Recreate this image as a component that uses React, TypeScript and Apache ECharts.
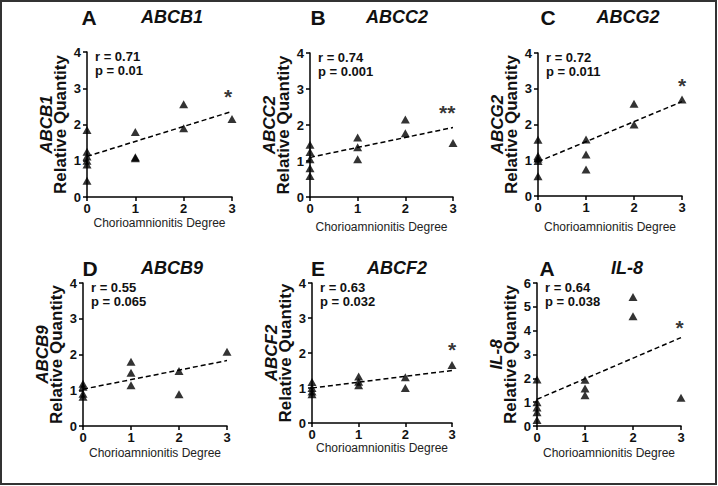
import React, { useEffect, useRef } from "react";
import * as echarts from "echarts";

const FONT = '"Liberation Sans", Arial, Helvetica, sans-serif';

// ---- data ----
const degreeTicks = [0, 1, 2, 3];
const panelLetters = ["A", "B", "C", "D", "E", "A"];
const geneNames = ["ABCB1", "ABCC2", "ABCG2", "ABCB9", "ABCF2", "IL-8"];
const rValues = ["0.71", "0.74", "0.72", "0.55", "0.63", "0.64"];
const pValues = ["0.01", "0.001", "0.011", "0.065", "0.032", "0.038"];
const yMaxValues = [4, 4, 4, 4, 4, 6];

const abcb1Points = [[0, 1.85], [0, 1.25], [0, 1.12], [0, 1.0], [0, 0.9], [0, 0.45], [1, 1.79], [1, 1.1], [1, 1.07], [2, 2.56], [2, 1.9], [3, 2.15]];
const abcc2Points = [[0, 1.45], [0, 1.25], [0, 1.05], [0, 0.8], [0, 0.58], [1, 1.65], [1, 1.38], [1, 1.05], [2, 2.15], [2, 1.77], [3, 1.5]];
const abcg2Points = [[0, 1.57], [0, 1.12], [0, 1.05], [0, 0.98], [0, 0.55], [1, 1.58], [1, 1.16], [1, 0.74], [2, 2.58], [2, 2.0], [3, 2.7]];
const abcb9Points = [[0, 1.18], [0, 1.1], [0, 0.9], [0, 0.82], [1, 1.8], [1, 1.49], [1, 1.14], [2, 1.54], [2, 0.89], [3, 2.08]];
const abcf2Points = [[0, 1.17], [0, 1.0], [0, 0.9], [0, 0.82], [1, 1.33], [1, 1.18], [1, 1.08], [2, 1.31], [2, 1.0], [3, 1.66]];
const il8Points = [[0, 1.95], [0, 1.0], [0, 0.78], [0, 0.58], [0, 0.25], [1, 1.94], [1, 1.57], [1, 1.29], [2, 5.41], [2, 4.6], [3, 1.19]];
const panelPoints = [abcb1Points, abcc2Points, abcg2Points, abcb9Points, abcf2Points, il8Points];

// regression fit values at degree 0 and degree 3
const fitAtZero = [1.12, 1.1, 0.96, 1.03, 1.0, 1.12];
const fitAtThree = [2.36, 1.93, 2.64, 1.83, 1.5, 3.71];

// significance marks and their data positions
const starMarks = ["*", "**", "*", "", "*", "*"];
const starPositions = [[2.92, 2.9], [2.88, 2.5], [3.0, 3.22], null, [3.0, 2.23], [2.97, 4.36]];

// ---- layout ----
const gridBoxes = [
  { left: 87, top: 52, width: 145, height: 145 },
  { left: 310, top: 53, width: 143, height: 144 },
  { left: 538, top: 53, width: 144, height: 143 },
  { left: 83, top: 283, width: 144, height: 143 },
  { left: 312, top: 283, width: 140, height: 140 },
  { left: 537, top: 283, width: 144, height: 143 },
];
const xNameGaps = [20, 24, 25, 21, 19, 21];
const titleY = [17, 17, 17, 268, 268, 268];
const letterX = [89, 318, 548, 90, 318, 547];
const geneX = [172, 397, 628, 172, 397, 627];

function buildOption() {
  const grid: any[] = [];
  const xAxis: any[] = [];
  const yAxis: any[] = [];
  const series: any[] = [];
  const graphic: any[] = [];

  gridBoxes.forEach((g, i) => {
    grid.push({ ...g, containLabel: false, outerBoundsMode: "none" });
    xAxis.push({
      gridIndex: i,
      type: "value",
      min: degreeTicks[0],
      max: degreeTicks[degreeTicks.length - 1],
      interval: 1,
      splitLine: { show: false },
      axisLine: { show: true, onZero: false, lineStyle: { color: "#000", width: 1.5 } },
      axisTick: { show: true, length: 4, lineStyle: { color: "#000", width: 1.5 } },
      axisLabel: { margin: 5, color: "#111", fontSize: 13, fontWeight: "bold", fontFamily: FONT },
      name: "Chorioamnionitis Degree",
      nameLocation: "middle",
      nameGap: xNameGaps[i],
      nameTextStyle: { color: "#222", fontSize: 12, lineHeight: 12, fontFamily: FONT },
    });
    yAxis.push({
      gridIndex: i,
      type: "value",
      min: 0,
      max: yMaxValues[i],
      interval: 1,
      splitLine: { show: false },
      axisLine: { show: true, onZero: false, lineStyle: { color: "#000", width: 1.5 } },
      axisTick: { show: true, length: 4, lineStyle: { color: "#000", width: 1.5 } },
      axisLabel: { margin: 6, color: "#111", fontSize: 13, fontWeight: "bold", fontFamily: FONT },
      name: `{g|${geneNames[i]}}\n{q|Relative Quantity}`,
      nameLocation: "middle",
      nameRotate: 90,
      nameGap: 20,
      nameTextStyle: {
        color: "#111",
        fontFamily: FONT,
        rich: {
          g: { fontStyle: "italic", fontWeight: "bold", fontSize: 17, lineHeight: 14, fontFamily: FONT, color: "#111" },
          q: { fontWeight: "bold", fontSize: 17, lineHeight: 14, fontFamily: FONT, color: "#111" },
        },
      },
    });
    series.push({
      type: "line",
      xAxisIndex: i,
      yAxisIndex: i,
      data: [[degreeTicks[0], fitAtZero[i]], [degreeTicks[degreeTicks.length - 1], fitAtThree[i]]],
      symbol: "none",
      lineStyle: { color: "#000", width: 1.5, type: [5, 3] },
      z: 2,
      silent: true,
    });
    series.push({
      type: "scatter",
      xAxisIndex: i,
      yAxisIndex: i,
      data: panelPoints[i],
      symbol: "triangle",
      symbolSize: [9, 8],
      itemStyle: { color: "#000" },
      clip: false,
      z: 3,
    });
    const sp = starPositions[i];
    if (sp) {
      series.push({
        type: "scatter",
        xAxisIndex: i,
        yAxisIndex: i,
        data: [sp],
        symbolSize: 0,
        clip: false,
        label: {
          show: true,
          position: "inside",
          formatter: () => starMarks[i],
          color: "#000",
          fontSize: 21,
          fontWeight: "bold",
          fontFamily: FONT,
          offset: [0, 5],
        },
        z: 4,
      });
    }
    // panel titles
    graphic.push({
      type: "text",
      x: letterX[i],
      y: titleY[i],
      style: {
        text: panelLetters[i],
        fontSize: 21,
        fontWeight: "bold",
        fontFamily: FONT,
        fill: "#111",
        align: "center",
        verticalAlign: "middle",
        textAlign: "center",
        textVerticalAlign: "middle",
      },
    });
    graphic.push({
      type: "text",
      x: geneX[i],
      y: titleY[i],
      style: {
        text: geneNames[i],
        fontSize: 18,
        fontWeight: "bold",
        fontStyle: "italic",
        fontFamily: FONT,
        fill: "#111",
        align: "center",
        verticalAlign: "middle",
        textAlign: "center",
        textVerticalAlign: "middle",
      },
    });
    // r / p annotations
    graphic.push({
      type: "text",
      x: g.left + 8,
      y: g.top + 4,
      style: {
        text: `r = ${rValues[i]}`,
        fontSize: 13,
        fontWeight: "bold",
        fontFamily: FONT,
        fill: "#111",
        align: "left",
        verticalAlign: "middle",
        textAlign: "left",
        textVerticalAlign: "middle",
      },
    });
    graphic.push({
      type: "text",
      x: g.left + 8,
      y: g.top + 18,
      style: {
        text: `p = ${pValues[i]}`,
        fontSize: 13,
        fontWeight: "bold",
        fontFamily: FONT,
        fill: "#111",
        align: "left",
        verticalAlign: "middle",
        textAlign: "left",
        textVerticalAlign: "middle",
      },
    });
  });

  graphic.push({
    type: "rect",
    shape: { x: 1, y: 1, width: 715, height: 483 },
    style: { fill: "none", stroke: "#333", lineWidth: 2 },
    z: 100,
  });

  return {
    animation: false,
    backgroundColor: "#fff",
    textStyle: { fontFamily: FONT },
    grid,
    xAxis,
    yAxis,
    series,
    graphic,
  };
}

export default function App() {
  const ref = useRef<HTMLDivElement>(null);
  useEffect(() => {
    if (!ref.current) return;
    const chart = echarts.init(ref.current, undefined, { renderer: "svg" });
    chart.setOption(buildOption() as any);
    return () => chart.dispose();
  }, []);
  return (
    <div
      ref={ref}
      style={{ position: "fixed", left: 0, top: 0, width: 718, height: 486, background: "#fff" }}
    />
  );
}
